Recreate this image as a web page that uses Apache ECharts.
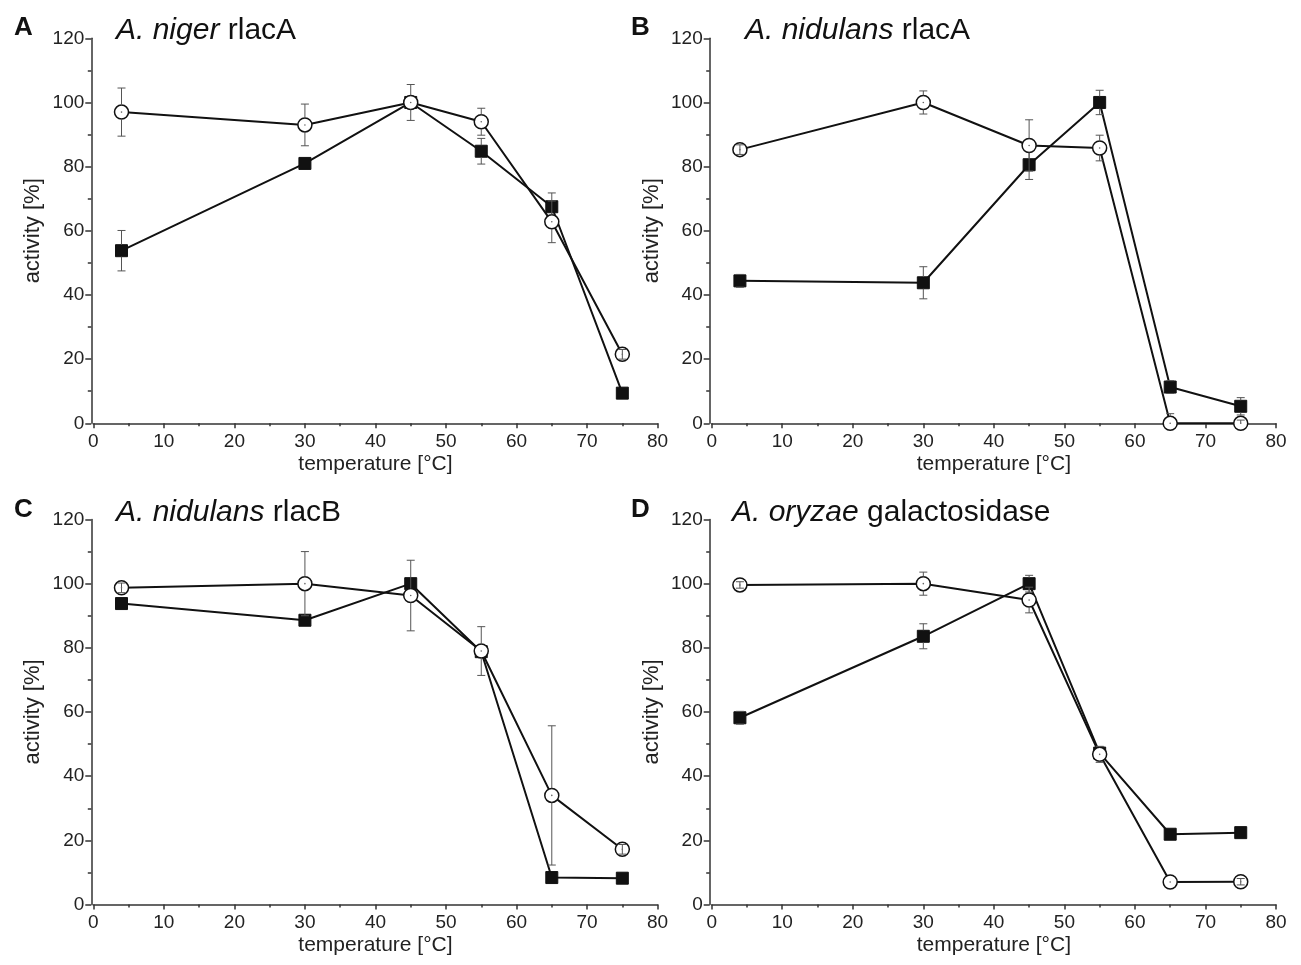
<!DOCTYPE html>
<html>
<head>
<meta charset="utf-8">
<script src="https://cdn.jsdelivr.net/npm/echarts@6/dist/echarts.min.js"></script>
<style>
  html, body { margin: 0; padding: 0; background: #fff; }
  #chart { width: 1301px; height: 965px; }
</style>
</head>
<body>
<div id="chart"></div>
<script>
// temperatures used in every panel
const temps = [4, 30, 45, 55, 65, 75];

// A. niger rlacA
const nigerCircle = [97, 93, 100, 94, 62.8, 21.5];
const nigerCircleErr = [7.5, 6.5, 5.6, 4.2, 6.5, 1.5];
const nigerSquare = [53.8, 81, 100, 84.8, 67.5, 9.4];
const nigerSquareErr = [6.3, 0, 0, 4, 4.3, 0];

// A. nidulans rlacA
const nidAcircle = [85.3, 100, 86.6, 85.8, 0, 0];
const nidAcircleErr = [1.5, 3.6, 8, 4, 3, 1];
const nidAsquare = [44.4, 43.8, 80.6, 100, 11.3, 5.3];
const nidAsquareErr = [2, 5, 4.6, 3.8, 2, 2.7];

// A. nidulans rlacB
const nidBcircle = [98.7, 100, 96.3, 79, 34, 17.2];
const nidBcircleErr = [1.5, 10, 11, 7.6, 21.7, 1.5];
const nidBsquare = [93.8, 88.6, 100, 78.8, 8.4, 8.2];
const nidBsquareErr = [0, 0, 0, 0, 0, 0];

// A. oryzae galactosidase
const oryCircle = [99.6, 100, 94.9, 46.8, 7.0, 7.1];
const oryCircleErr = [1, 3.6, 4, 2.5, 0, 1];
const orySquare = [58.2, 83.6, 100, 47.2, 21.9, 22.4];
const orySquareErr = [2, 3.9, 2.6, 2, 0, 0];

const panelLetters = ['A', 'B', 'C', 'D'];
const panelTitles = [
  ['A. niger', 'rlacA'],
  ['A. nidulans', 'rlacA'],
  ['A. nidulans', 'rlacB'],
  ['A. oryzae', 'galactosidase'],
];
const panels = [
  { circle: nigerCircle, circleErr: nigerCircleErr, square: nigerSquare, squareErr: nigerSquareErr },
  { circle: nidAcircle, circleErr: nidAcircleErr, square: nidAsquare, squareErr: nidAsquareErr },
  { circle: nidBcircle, circleErr: nidBcircleErr, square: nidBsquare, squareErr: nidBsquareErr },
  { circle: oryCircle, circleErr: oryCircleErr, square: orySquare, squareErr: orySquareErr },
];

// 布局
const gridPos = [
  { left: 93.3, top: 38.3 },
  { left: 711.7, top: 38.3 },
  { left: 93.3, top: 519.5 },
  { left: 711.7, top: 519.5 },
];
const titlePos = [
  { letter: [9, 10], title: [111, 11] },
  { letter: [626, 10], title: [740, 11] },
  { letter: [9, 492], title: [111, 493] },
  { letter: [626, 492], title: [727, 493] },
];
const FONT = '"Liberation Sans", Arial, sans-serif';
const INK = '#111';

const CIRCLE_SIZE = 14;
const SQUARE_SIZE = 12;

// error bars drawn outside the marker; small ones show through open circles
function errorBars(radius, isCircle) {
  return function (params, api) {
    const x = api.value(0);
    const y = api.value(1);
    const e = api.value(2);
    const c = api.coord([x, y]);
    const top = api.coord([x, y + e]);
    const bot = api.coord([x, Math.max(y - e, 0)]);
    const cap = 4;
    const style = { stroke: '#555', lineWidth: 1 };
    const children = [];
    const dTop = c[1] - top[1];
    const dBot = bot[1] - c[1];
    if (e > 0) {
      if (dTop > radius) {
        children.push({ type: 'line', shape: { x1: c[0], y1: c[1] - radius, x2: c[0], y2: top[1] }, style });
        children.push({ type: 'line', shape: { x1: c[0] - cap, y1: top[1], x2: c[0] + cap, y2: top[1] }, style });
      } else if (isCircle) {
        children.push({ type: 'line', shape: { x1: c[0], y1: c[1], x2: c[0], y2: top[1] }, style });
        children.push({ type: 'line', shape: { x1: c[0] - cap, y1: top[1], x2: c[0] + cap, y2: top[1] }, style });
      }
      if (dBot > radius) {
        children.push({ type: 'line', shape: { x1: c[0], y1: c[1] + radius, x2: c[0], y2: bot[1] }, style });
        children.push({ type: 'line', shape: { x1: c[0] - cap, y1: bot[1], x2: c[0] + cap, y2: bot[1] }, style });
      } else if (isCircle && dBot > 0.5) {
        children.push({ type: 'line', shape: { x1: c[0], y1: c[1], x2: c[0], y2: bot[1] }, style });
        children.push({ type: 'line', shape: { x1: c[0] - cap, y1: bot[1], x2: c[0] + cap, y2: bot[1] }, style });
      }
    }
    if (isCircle) {
      children.push({ type: 'circle', shape: { cx: c[0], cy: c[1], r: 0.8 }, style: { fill: '#666' } });
    }
    return { type: 'group', children };
  };
}

const grids = [];
const xAxes = [];
const yAxes = [];
const series = [];
const titles = [];

panels.forEach((p, i) => {
  grids.push({ left: gridPos[i].left, top: gridPos[i].top, width: 564.3, height: 385 });
  xAxes.push({
    gridIndex: i,
    type: 'value',
    min: 0,
    max: 80,
    interval: 10,
    name: 'temperature [°C]',
    nameLocation: 'middle',
    nameGap: 30,
    nameTextStyle: { fontFamily: FONT, fontSize: 21, color: '#222' },
    axisLine: { onZero: false, lineStyle: { color: '#333', width: 1.5 } },
    axisTick: { length: 5, lineStyle: { color: '#333', width: 1.5 } },
    minorTick: { show: true, splitNumber: 2, length: 3, lineStyle: { color: '#333', width: 1.5 } },
    axisLabel: { fontFamily: FONT, fontSize: 19, color: '#222', margin: 9 },
    splitLine: { show: false },
  });
  yAxes.push({
    gridIndex: i,
    type: 'value',
    min: 0,
    max: 120,
    interval: 20,
    offset: 2,
    name: 'activity [%]',
    nameLocation: 'middle',
    nameGap: 47,
    nameTextStyle: { fontFamily: FONT, fontSize: 22, color: '#222' },
    axisLine: { show: true, onZero: false, lineStyle: { color: '#333', width: 1.5 } },
    axisTick: { show: true, length: 6, lineStyle: { color: '#333', width: 1.5 } },
    minorTick: { show: true, splitNumber: 2, length: 3.5, lineStyle: { color: '#333', width: 1.5 } },
    axisLabel: { fontFamily: FONT, fontSize: 19, color: '#222', margin: 7 },
    splitLine: { show: false },
  });

  const sq = temps.map((t, k) => [t, p.square[k]]);
  const ci = temps.map((t, k) => [t, p.circle[k]]);
  series.push({
    type: 'line',
    xAxisIndex: i,
    yAxisIndex: i,
    data: sq,
    symbol: 'rect',
    symbolSize: SQUARE_SIZE,
    showAllSymbol: true,
    z: 2,
    lineStyle: { color: INK, width: 2 },
    itemStyle: { color: INK, borderColor: INK, borderWidth: 1 },
  });
  series.push({
    type: 'custom',
    xAxisIndex: i,
    yAxisIndex: i,
    data: temps.map((t, k) => [t, p.square[k], p.squareErr[k]]),
    encode: { x: 0, y: 1 },
    renderItem: errorBars(SQUARE_SIZE / 2, false),
    z: 3,
  });
  series.push({
    type: 'line',
    xAxisIndex: i,
    yAxisIndex: i,
    data: ci,
    symbol: 'circle',
    symbolSize: CIRCLE_SIZE,
    showAllSymbol: true,
    z: 4,
    lineStyle: { color: INK, width: 2 },
    itemStyle: { color: '#fff', borderColor: INK, borderWidth: 1.5 },
  });
  series.push({
    type: 'custom',
    xAxisIndex: i,
    yAxisIndex: i,
    data: temps.map((t, k) => [t, p.circle[k], p.circleErr[k]]),
    encode: { x: 0, y: 1 },
    renderItem: errorBars(CIRCLE_SIZE / 2, true),
    z: 5,
  });

  titles.push({
    text: panelLetters[i],
    left: titlePos[i].letter[0],
    top: titlePos[i].letter[1],
    textStyle: { fontFamily: FONT, fontSize: 26, fontWeight: 'bold', color: '#111' },
  });
  titles.push({
    text: `{i|${panelTitles[i][0]}} ${panelTitles[i][1]}`,
    left: titlePos[i].title[0],
    top: titlePos[i].title[1],
    textStyle: {
      fontFamily: FONT,
      fontSize: 30,
      fontWeight: 'normal',
      color: '#111',
      rich: { i: { fontFamily: FONT, fontSize: 30, fontStyle: 'italic', color: '#111' } },
    },
  });
});

const chart = echarts.init(document.getElementById('chart'), null, { renderer: 'canvas' });
chart.setOption({
  animation: false,
  backgroundColor: '#fff',
  title: titles,
  grid: grids,
  xAxis: xAxes,
  yAxis: yAxes,
  series,
});
</script>
</body>
</html>
